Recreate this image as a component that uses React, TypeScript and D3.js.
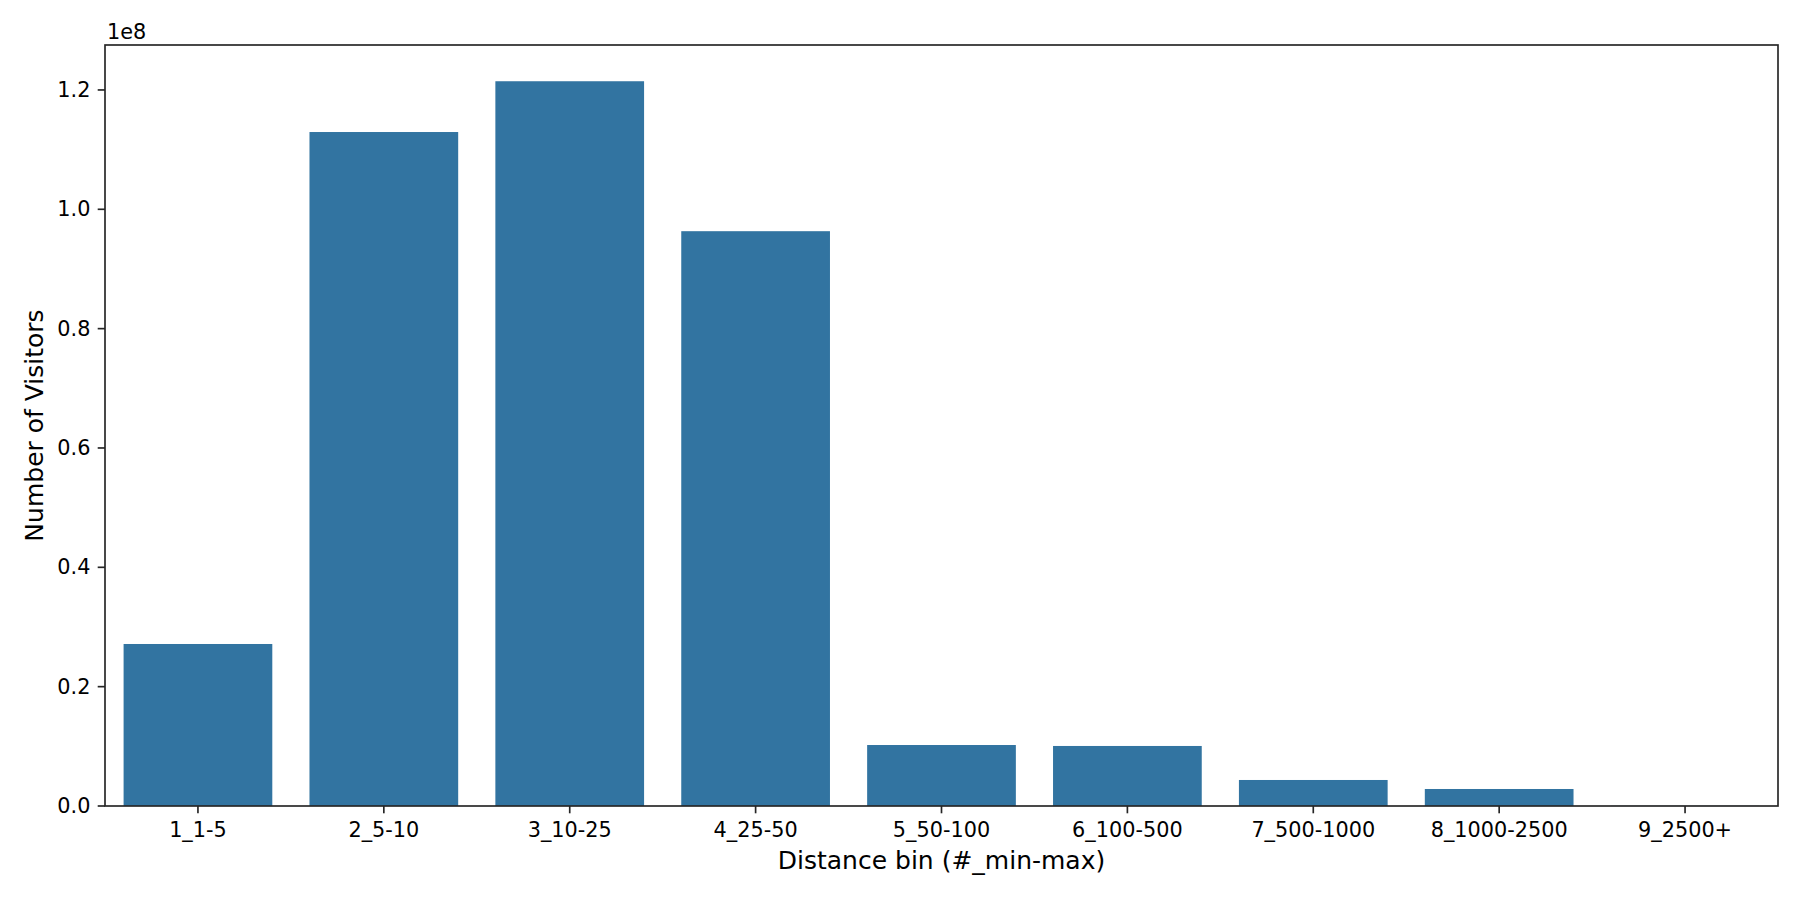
import React from "react";
import * as d3 from "d3";

const categories = [
  "1_1-5",
  "2_5-10",
  "3_10-25",
  "4_25-50",
  "5_50-100",
  "6_100-500",
  "7_500-1000",
  "8_1000-2500",
  "9_2500+",
];
const visitors = [
  27150000, 112950000, 121460000, 96330000, 10220000, 10060000, 4360000, 2850000, 30000,
];
const yTicks = [0, 0.2e8, 0.4e8, 0.6e8, 0.8e8, 1.0e8, 1.2e8];
const yTickLabels = ["0.0", "0.2", "0.4", "0.6", "0.8", "1.0", "1.2"];

const W = 1800;
const H = 900;
const left = 105;
const right = 1778;
const top = 45;
const bottom = 806;
const font = "'DejaVu Sans', sans-serif";
const barColor = "#3274a1";
const axisColor = "#262626";

export default function App() {
  const x = d3
    .scaleBand<string>()
    .domain(categories)
    .range([left, right])
    .paddingInner(0.2)
    .paddingOuter(0.1);
  const yMax = (d3.max(visitors) as number) * 1.05;
  const y = d3.scaleLinear().domain([0, yMax]).range([bottom, top]);
  const tickLen = 7.3;
  const pad = 7.3;

  return (
    <svg
      width={W}
      height={H}
      style={{ position: "absolute", left: 0, top: 0, background: "#fff" }}
      fontFamily={font}
    >
      <rect x={0} y={0} width={W} height={H} fill="#fff" />
      {categories.map((c, i) => (
        <rect
          key={c}
          x={x(c)}
          y={y(visitors[i])}
          width={x.bandwidth()}
          height={bottom - y(visitors[i])}
          fill={barColor}
        />
      ))}
      {/* frame */}
      <rect
        x={left}
        y={top}
        width={right - left}
        height={bottom - top}
        fill="none"
        stroke={axisColor}
        strokeWidth={1.67}
      />
      {/* y ticks */}
      {yTicks.map((t, i) => (
        <g key={t}>
          <line
            x1={left - tickLen}
            x2={left}
            y1={y(t)}
            y2={y(t)}
            stroke={axisColor}
            strokeWidth={1.67}
          />
          <text
            x={left - tickLen - pad}
            y={y(t)}
            textAnchor="end"
            dominantBaseline="central"
            fontSize={20.8}
            fill="#000"
          >
            {yTickLabels[i]}
          </text>
        </g>
      ))}
      {/* x ticks */}
      {categories.map((c) => {
        const cx = (x(c) as number) + x.bandwidth() / 2;
        return (
          <g key={c}>
            <line
              x1={cx}
              x2={cx}
              y1={bottom}
              y2={bottom + tickLen}
              stroke={axisColor}
              strokeWidth={1.67}
            />
            <text x={cx} y={837} textAnchor="middle" fontSize={20.8} fill="#000">
              {c}
            </text>
          </g>
        );
      })}
      <text x={left + 2} y={39} fontSize={20.8} fill="#000">
        1e8
      </text>
      <text
        x={(left + right) / 2}
        y={869}
        textAnchor="middle"
        fontSize={25}
        fill="#000"
      >
        Distance bin (#_min-max)
      </text>
      <text
        transform={`translate(43, ${(top + bottom) / 2}) rotate(-90)`}
        textAnchor="middle"
        fontSize={25}
        fill="#000"
      >
        Number of Visitors
      </text>
    </svg>
  );
}
